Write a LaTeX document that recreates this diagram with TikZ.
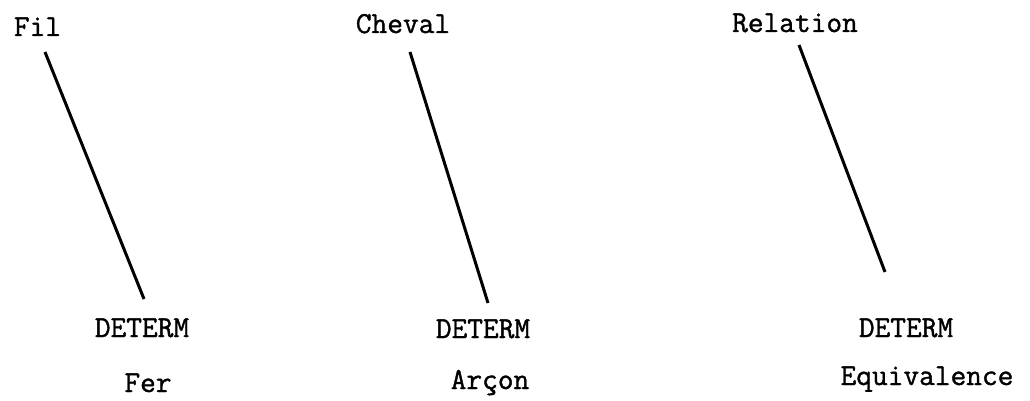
\documentclass[tikz,border=0pt]{standalone}
\usepackage{fontspec}
\usepackage{tikz}
\usetikzlibrary{positioning}

\newfontfamily\typer[FakeBold=1.2]{Latin Modern Mono}

\tikzset{
    word/.style={font=\fontsize{30.5}{36}\selectfont\typer,anchor=base,inner sep=0pt},
    link/.style={line width=3pt}
}

\begin{document}
\begin{tikzpicture}[x=1pt,y=-1pt]
\useasboundingbox (0,0) rectangle (1030,401);
% heads
\node[word] (fil) at (37.5,36) {Fil};
\node[word] (cheval) at (403,33) {Cheval};
\node[word] (relation) at (795,32) {Relation};
% determiners
\node[word] (det1) at (142,337) {DETERM};
\node[word] (det2) at (483,338) {DETERM};
\node[word] (det3) at (906,337) {DETERM};
\node[word] (fer) at (148,392) {Fer};
\node[word] (arcon) at (490,389) {Arçon};
\node[word] (equiv) at (927,385) {Equivalence};
% line ends
\coordinate (top1) at (45,52);
\coordinate (bot1) at (144,299);
\coordinate (top2) at (410,52);
\coordinate (bot2) at (488,303);
\coordinate (top3) at (799,45);
\coordinate (bot3) at (885,272);
\draw[link] (top1) -- (bot1);
\draw[link] (top2) -- (bot2);
\draw[link] (top3) -- (bot3);
\end{tikzpicture}
\end{document}
